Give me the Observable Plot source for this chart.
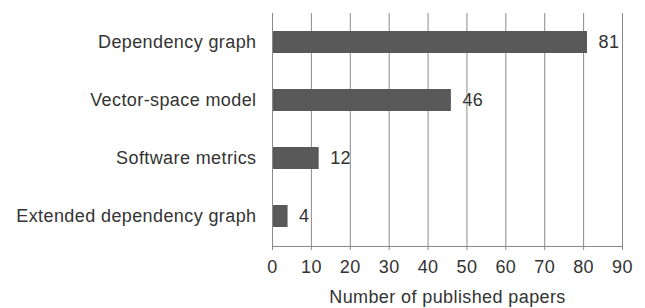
<!DOCTYPE html>
<html>
<head>
<meta charset="utf-8">
<script src="https://cdn.jsdelivr.net/npm/d3@7"></script>
<script src="https://cdn.jsdelivr.net/npm/@observablehq/plot@0.6"></script>
<style>
  html, body { margin: 0; padding: 0; background: #fff; }
  svg { display: block; }
</style>
</head>
<body>
<div id="chart"></div>
<script>
const categories = ["Dependency graph", "Vector-space model", "Software metrics", "Extended dependency graph"];
const values = [81, 46, 12, 4];
const xTicks = [0, 10, 20, 30, 40, 50, 60, 70, 80, 90];
const xLabel = "Number of published papers";

const data = categories.map((c, i) => ({category: c, value: values[i]}));

const FS = 18;
const chart = Plot.plot({
  width: 645,
  height: 308,
  marginLeft: 272,
  marginRight: 23,
  marginTop: 13,
  marginBottom: 62,
  style: {fontFamily: "'Liberation Sans', Arial, sans-serif", fontSize: FS + "px", color: "#333", background: "#fff"},
  x: {domain: [0, 90], ticks: xTicks, label: null},
  y: {domain: categories, paddingInner: 0.62, paddingOuter: 0.31, label: null},
  marks: [
    Plot.gridX(xTicks, {stroke: "#8a8a8a", strokeOpacity: 1, strokeWidth: 1}),
    Plot.barX(data, {x: "value", y: "category", fill: "#595959"}),
    Plot.axisX({ticks: xTicks, tickSize: 4, tickPadding: 10, stroke: "#8a8a8a", fill: "#333", fontSize: FS,
      label: xLabel, labelAnchor: "center", labelOffset: 56, labelArrow: "none"}),
    Plot.axisY({tickSize: 0, tickPadding: 16, fill: "#333", fontSize: FS}),
    Plot.ruleX([0], {stroke: "#8a8a8a"}),
    Plot.text(data, {x: "value", y: "category", text: d => String(d.value), textAnchor: "start", dx: 11, fill: "#333", fontSize: FS})
  ]
});

d3.select(chart).selectAll("text").style("letter-spacing", "0.4px").style("font-size", FS + "px");
document.getElementById("chart").appendChild(chart);

// baseline along the bottom of the frame, placed with the plot's own scale
const xs = chart.scale("x");
const yBottom = 308 - 62;
d3.select(chart).append("line")
  .attr("x1", xs.apply(0)).attr("x2", xs.apply(90))
  .attr("y1", yBottom + 0.5).attr("y2", yBottom + 0.5)
  .attr("stroke", "#8a8a8a");
</script>
</body>
</html>
